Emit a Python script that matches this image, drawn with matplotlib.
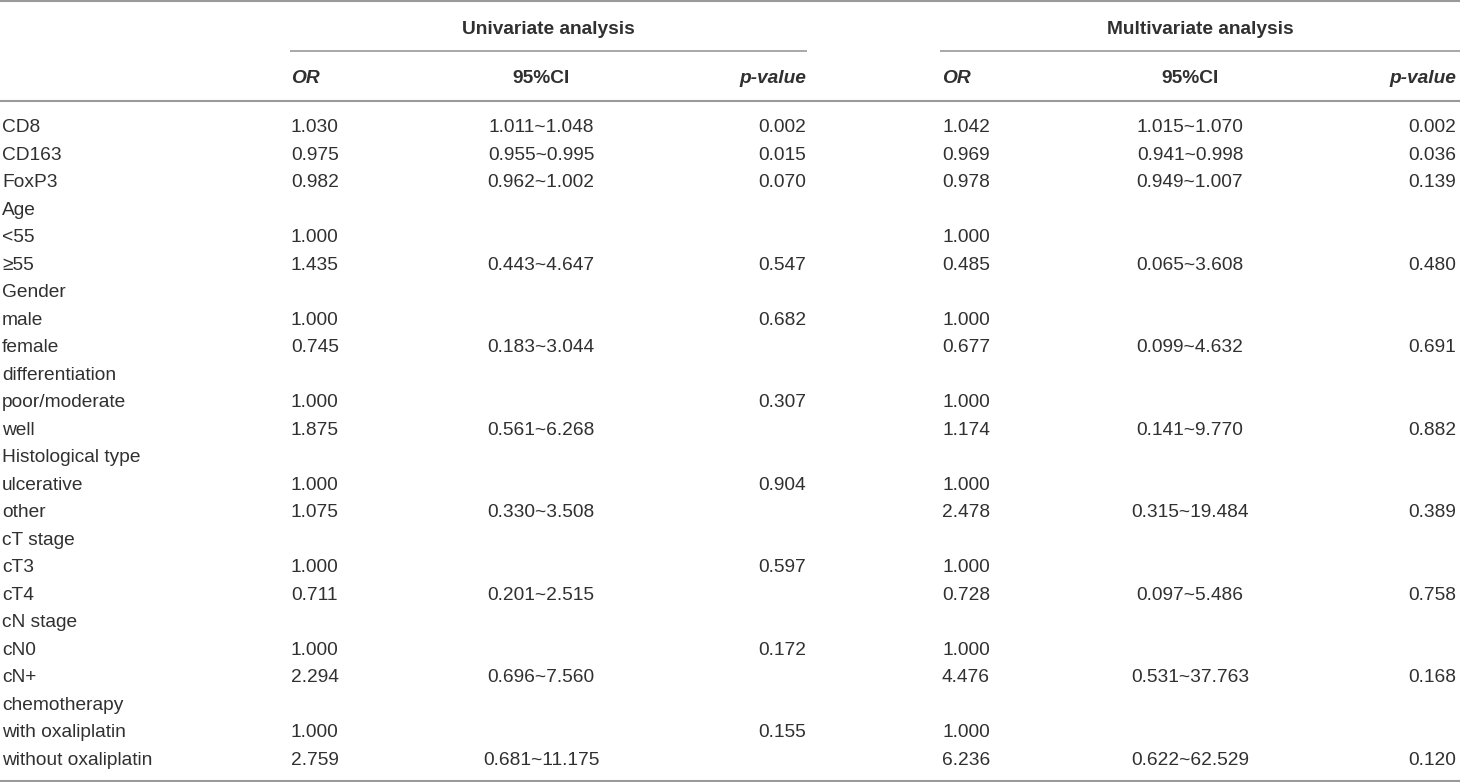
import matplotlib
matplotlib.use("Agg")
import matplotlib.pyplot as plt

labels = ["CD8", "CD163", "FoxP3", "Age", "<55", "≥55", "Gender", "male", "female",
          "differentiation", "poor/moderate", "well", "Histological type", "ulcerative",
          "other", "cT stage", "cT3", "cT4", "cN stage", "cN0", "cN+", "chemotherapy",
          "with oxaliplatin", "without oxaliplatin"]

uni_or = ["1.030", "0.975", "0.982", "", "1.000", "1.435", "", "1.000", "0.745",
          "", "1.000", "1.875", "", "1.000", "1.075", "", "1.000", "0.711",
          "", "1.000", "2.294", "", "1.000", "2.759"]
uni_ci = ["1.011~1.048", "0.955~0.995", "0.962~1.002", "", "", "0.443~4.647", "", "", "0.183~3.044",
          "", "", "0.561~6.268", "", "", "0.330~3.508", "", "", "0.201~2.515",
          "", "", "0.696~7.560", "", "", "0.681~11.175"]
uni_p = ["0.002", "0.015", "0.070", "", "", "0.547", "", "0.682", "",
         "", "0.307", "", "", "0.904", "", "", "0.597", "",
         "", "0.172", "", "", "0.155", ""]

multi_or = ["1.042", "0.969", "0.978", "", "1.000", "0.485", "", "1.000", "0.677",
            "", "1.000", "1.174", "", "1.000", "2.478", "", "1.000", "0.728",
            "", "1.000", "4.476", "", "1.000", "6.236"]
multi_ci = ["1.015~1.070", "0.941~0.998", "0.949~1.007", "", "", "0.065~3.608", "", "", "0.099~4.632",
            "", "", "0.141~9.770", "", "", "0.315~19.484", "", "", "0.097~5.486",
            "", "", "0.531~37.763", "", "", "0.622~62.529"]
multi_p = ["0.002", "0.036", "0.139", "", "", "0.480", "", "", "0.691",
           "", "", "0.882", "", "", "0.389", "", "", "0.758",
           "", "", "0.168", "", "", "0.120"]

group_titles = ["Univariate analysis", "Multivariate analysis"]
sub_headers = ["OR", "95%CI", "p-value"]

W, H = 1460, 782
fig = plt.figure(figsize=(W / 100, H / 100), dpi=100)
ax = fig.add_axes([0, 0, 1, 1])
ax.set_xlim(0, W)
ax.set_ylim(H, 0)
ax.axis("off")

FONT = "Liberation Sans"
FS = 13.8
TXT = "#303030"
LINE = "#9a9a9a"

# column layout: (x, ha) for OR, CI, p in each group
groups = [
    {"cols": [(291, "left"), (541, "center"), (806, "right")], "span": (290, 807),
     "data": (uni_or, uni_ci, uni_p)},
    {"cols": [(942, "left"), (1190, "center"), (1456, "right")], "span": (940, 1460),
     "data": (multi_or, multi_ci, multi_p)},
]

# rules
ax.plot([0, W], [1.0, 1.0], color=LINE, lw=1.5, solid_capstyle="butt")
ax.plot([0, W], [100.5, 100.5], color=LINE, lw=1.5, solid_capstyle="butt")
ax.plot([0, W], [781, 781], color=LINE, lw=1.5, solid_capstyle="butt")

for g, title in zip(groups, group_titles):
    x0, x1 = g["span"]
    ax.plot([x0, x1], [50.5, 50.5], color=LINE, lw=1.2, solid_capstyle="butt")
    ax.text((x0 + x1) / 2, 33.5, title, ha="center", va="baseline", fontsize=FS,
            fontweight="bold", color=TXT, family=FONT)
    for (x, ha), h in zip(g["cols"], sub_headers):
        style = "normal" if h == "95%CI" else "italic"
        ax.text(x, 83, h, ha=ha, va="baseline", fontsize=FS, fontweight="bold",
                style=style, color=TXT, family=FONT)

y0, dy = 132, 27.52
for i, lab in enumerate(labels):
    y = y0 + i * dy
    ax.text(2, y, lab, ha="left", va="baseline", fontsize=FS, color=TXT, family=FONT)
    for g in groups:
        for (x, ha), col in zip(g["cols"], g["data"]):
            if col[i]:
                ax.text(x, y, col[i], ha=ha, va="baseline", fontsize=FS, color=TXT, family=FONT)

fig.savefig("out.png", dpi=100, facecolor="white")
